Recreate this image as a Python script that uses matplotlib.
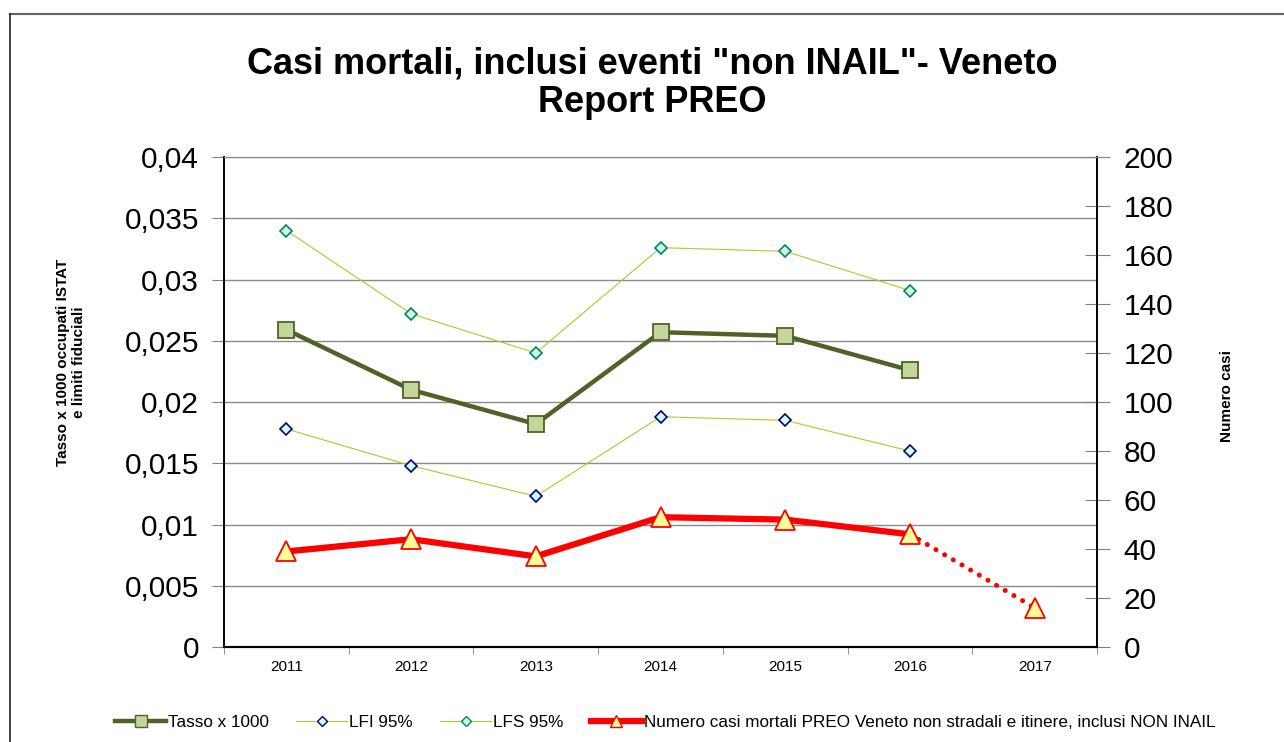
import numpy as np
import matplotlib.pyplot as plt
from matplotlib.lines import Line2D
from matplotlib.ticker import FuncFormatter

plt.rcParams['font.family'] = ['Liberation Sans', 'DejaVu Sans']

years = ['2011', '2012', '2013', '2014', '2015', '2016', '2017']
tasso = [0.0259, 0.0210, 0.0182, 0.0257, 0.0254, 0.0226]
lfi = [0.0178, 0.0148, 0.0123, 0.0188, 0.0185, 0.0160]
lfs = [0.0340, 0.0272, 0.0240, 0.0326, 0.0323, 0.0291]
casi = [39, 44, 37, 53, 52, 46, 16]

x = np.arange(len(years))

fig = plt.figure(figsize=(12.84, 7.42), dpi=100)
ax = fig.add_axes([0.1745, 0.128, 0.6799, 0.6604])
ax2 = ax.twinx()

# grid on the left scale
for v in np.arange(0.005, 0.0401, 0.005):
    ax.axhline(v, color='#8a8a8a', lw=1, zorder=0)

ax.plot(x[:6], lfs, color='#a8cc2c', lw=0.8, marker='D', ms=6,
        mfc='#ccffcc', mec='#008080', mew=1.2, label='LFS 95%', zorder=3)
ax.plot(x[:6], lfi, color='#a8cc2c', lw=0.8, marker='D', ms=6,
        mfc='#ccffff', mec='#000080', mew=1.2, label='LFI 95%', zorder=3)
ax.plot(x[:6], tasso, color='#4f6228', lw=3.2, marker='s', ms=11,
        mfc='#c3d69b', mec='#4f6228', mew=1.3, label='Tasso x 1000', zorder=4)

ax2.plot(x[5:], casi[5:], color='#ff0000', lw=3.6, ls=(0, (0.01, 2.0)),
         dash_capstyle='round', zorder=3)
ax2.plot(x[:6], casi[:6], color='#ff0000', lw=4.5, zorder=3)
ax2.plot(x, casi, ls='none', marker='^', ms=15, mfc='#ffff99',
         mec='#ff0000', mew=1.3, zorder=4)

ax.set_xlim(-0.5, 6.5)
ax.set_ylim(0, 0.04)
ax2.set_ylim(0, 200)
ax.set_yticks(np.arange(0, 0.0401, 0.005))
ax2.set_yticks(np.arange(0, 201, 20))
ax.yaxis.set_major_formatter(FuncFormatter(lambda v, p: ('%g' % round(v, 4)).replace('.', ',')))

ax.set_xticks(x)
ax.set_xticklabels(years, fontsize=11)
ax.tick_params(axis='x', which='major', length=0, pad=9)
ax.set_xticks(np.arange(-0.5, 7, 1), minor=True)
ax.tick_params(axis='x', which='minor', length=5, color='#808080')
ax.tick_params(axis='y', labelsize=21.5, length=9, color='#808080', pad=9)
ax2.tick_params(axis='y', labelsize=21.5, length=18, color='#808080',
                direction='inout', pad=10)

for a in (ax, ax2):
    a.spines['top'].set_color('#8a8a8a')
    a.spines['left'].set_color('black')
    a.spines['bottom'].set_color('black')
    a.spines['right'].set_color('black')
    a.spines['left'].set_linewidth(1.2)
    a.spines['bottom'].set_linewidth(1.5)
    a.spines['right'].set_linewidth(1.2)

fig.text(0.508, 0.888, 'Casi mortali, inclusi eventi "non INAIL"- Veneto\nReport PREO',
         ha='center', va='center', fontsize=26, fontweight='bold', linespacing=1.15)
fig.text(0.055, 0.512, 'Tasso x 1000 occupati ISTAT\ne limiti fiduciali', rotation=90,
         ha='center', va='center', fontsize=11, fontweight='bold')
fig.text(0.9555, 0.466, 'Numero casi', rotation=90, ha='center', va='center',
         fontsize=11, fontweight='bold')

handles = [
    Line2D([], [], color='#4f6228', lw=3.2, marker='s', ms=8, mfc='#c3d69b', mec='#4f6228'),
    Line2D([], [], color='#a8cc2c', lw=0.8, marker='D', ms=5, mfc='#ccffff', mec='#000080'),
    Line2D([], [], color='#a8cc2c', lw=0.8, marker='D', ms=5, mfc='#ccffcc', mec='#008080'),
    Line2D([], [], color='#ff0000', lw=4.5, marker='^', ms=8, mfc='#ffff99', mec='#ff0000'),
]
labels = ['Tasso x 1000', 'LFI 95%', 'LFS 95%',
          'Numero casi mortali PREO Veneto non stradali e itinere, inclusi NON INAIL']
fig.legend(handles, labels, loc='center', bbox_to_anchor=(0.518, 0.026), ncol=4,
           frameon=False, fontsize=12.3, handlelength=3.0, handletextpad=0.1,
           columnspacing=1.6)

# outer frame
fig.add_artist(Line2D([10 / 1284, 1], [1 - 14 / 742] * 2, color='#666666', lw=1.5))
fig.add_artist(Line2D([10 / 1284] * 2, [0, 1 - 14 / 742], color='#222222', lw=1.2))

fig.savefig('out.png', dpi=100)
